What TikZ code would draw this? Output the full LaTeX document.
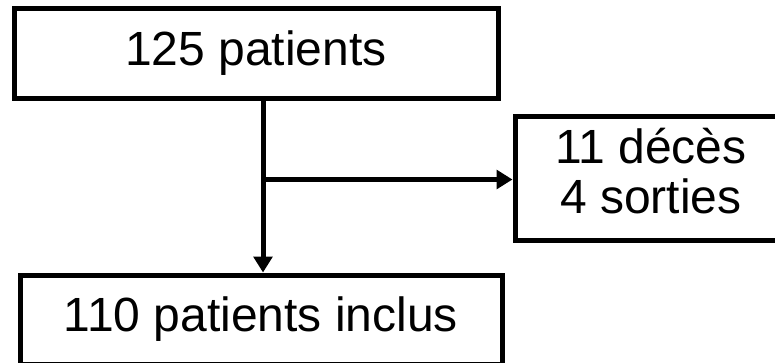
\documentclass[tikz,border=0pt]{standalone}
\usepackage{fontspec}
\setmainfont{Liberation Sans}
\usetikzlibrary{arrows.meta}
\begin{document}
\begin{tikzpicture}[x=0.75pt,y=-0.75pt,
  boxnode/.style={draw=black, line width=3.75pt, fill=white, align=center,
    inner sep=0pt, font=\fontsize{36pt}{36pt}\selectfont},
  conn/.style={line width=3.75pt, -{Triangle[length=12pt,width=14pt]}}]
\useasboundingbox (0,0) rectangle (775,362);
\clip (0,0) rectangle (775,362);
\node[boxnode, minimum width=363pt, minimum height=67.5pt] (top) at (256,53) {125 patients};
\node[boxnode, minimum width=252pt, minimum height=93pt] (side) at (683,178)
  {\begin{tabular}{@{}c@{\hspace{48pt}}}11 décès\\4 sorties\end{tabular}};
\node[boxnode, minimum width=361.5pt, minimum height=66.75pt] (bot) at (261,319.5) {110 patients inclus};
\coordinate (j) at (263,179.5);
\draw[conn] (j |- top.south) -- (j |- bot.north);
\draw[conn] (j) -- (side.west |- j);
\end{tikzpicture}
\end{document}
